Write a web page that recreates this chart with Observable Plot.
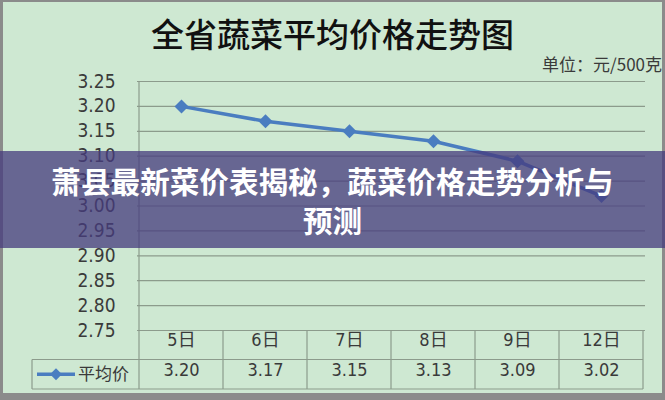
<!DOCTYPE html>
<html>
<head>
<meta charset="utf-8">
<script src="https://cdn.jsdelivr.net/npm/d3@7"></script>
<script src="https://cdn.jsdelivr.net/npm/@observablehq/plot@0.6"></script>
<style>
  html, body { margin: 0; padding: 0; background: #ffffff; }
  #wrap { position: relative; width: 665px; height: 400px; background: #8b8b8b; overflow: hidden; }
  #inner { position: absolute; left: 3px; top: 2px; width: 659px; height: 391px; background: #cee8d2; }
  #chart { position: absolute; left: 0; top: 0; width: 665px; height: 400px; }
  #banner {
    position: absolute; left: 0; top: 151px; width: 665px; height: 97px;
    background: rgba(70, 60, 125, 0.755);
    display: flex; align-items: center; justify-content: center;
  }
  #banner div {
    width: 585px; text-align: center; color: #ffffff;
    font-family: "Noto Sans CJK SC", sans-serif; font-weight: 700;
    font-size: 29.6px; line-height: 39px;
  }
</style>
</head>
<body>
<div id="wrap">
  <div id="inner"></div>
  <div id="chart"></div>
  <div id="banner"><div id="bannerText"></div></div>
</div>
<script>
const categories = ["5日", "6日", "7日", "8日", "9日", "12日"];
const prices = [3.20, 3.17, 3.15, 3.13, 3.09, 3.02];
const yTicks = [2.75, 2.80, 2.85, 2.90, 2.95, 3.00, 3.05, 3.10, 3.15, 3.20, 3.25];
const seriesName = "平均价";
const titleText = "全省蔬菜平均价格走势图";
const unitText = "单位：元/500克";
const bannerText = "萧县最新菜价表揭秘，蔬菜价格走势分析与预测";

const data = categories.map((c, i) => ({day: c, price: prices[i]}));

const lineColor = "#4a7dc0";
const gridColor = "#8c9b8c";
const textColor = "#3a3a3a";
const numFont = "'Liberation Sans Narrow', 'DejaVu Sans Condensed', 'Noto Sans CJK SC', sans-serif";

const chart = Plot.plot({
  width: 665,
  height: 400,
  marginLeft: 137,
  marginRight: 20,
  marginTop: 81,
  marginBottom: 70,
  style: {background: "transparent", overflow: "visible"},
  x: {type: "band", domain: categories, padding: 0, axis: null},
  y: {domain: [2.75, 3.25], axis: null},
  marks: [
    Plot.ruleY(yTicks, {y: d => d, stroke: gridColor, strokeWidth: 1.2}),
    Plot.axisY(yTicks, {
      tickSize: 0, tickPadding: 22, tickFormat: d3.format(".2f"),
      fontSize: 19, fill: textColor, fontFamily: numFont, label: null
    }),
    Plot.line(data, {x: "day", y: "price", stroke: lineColor, strokeWidth: 3.5}),
    Plot.dot(data, {x: "day", y: "price", symbol: "diamond2", r: 6.3, fill: lineColor, stroke: "none"}),
    Plot.text(data, {x: "day", text: "day", frameAnchor: "bottom", dy: 15,
      fontSize: 18, fill: textColor, fontFamily: numFont}),
    Plot.text(data, {x: "day", text: d => d.price.toFixed(2), frameAnchor: "bottom", dy: 45,
      fontSize: 18, fill: textColor, fontFamily: numFont})
  ]
});
document.getElementById("chart").appendChild(chart);

// Table grid, title, unit and legend derived from the plot's scales
const xs = chart.scale("x");
const ys = chart.scale("y");
const bw = xs.bandwidth;
const left = xs.apply(categories[0]);
const right = xs.apply(categories[categories.length - 1]) + bw;
const yBase = ys.apply(2.75);
const yTop = ys.apply(3.25);
const rowH = 29.5;
const tableLeft = 32;
const svg = d3.select(chart);
const g = svg.append("g").attr("stroke", gridColor).attr("stroke-width", 1.2).attr("fill", "none");
g.append("line").attr("x1", left).attr("x2", left).attr("y1", yTop).attr("y2", yBase + 2 * rowH);
categories.forEach((c) => {
  const xb = xs.apply(c) + bw;
  g.append("line").attr("x1", xb).attr("x2", xb).attr("y1", yBase).attr("y2", yBase + 2 * rowH);
});
g.append("line").attr("x1", tableLeft).attr("x2", right).attr("y1", yBase + rowH).attr("y2", yBase + rowH);
g.append("line").attr("x1", tableLeft).attr("x2", right).attr("y1", yBase + 2 * rowH).attr("y2", yBase + 2 * rowH);
g.append("line").attr("x1", tableLeft).attr("x2", tableLeft).attr("y1", yBase + rowH).attr("y2", yBase + 2 * rowH);

// legend key in table
const ly = yBase + 1.5 * rowH;
svg.append("line").attr("x1", 37).attr("x2", 75).attr("y1", ly).attr("y2", ly)
  .attr("stroke", lineColor).attr("stroke-width", 3.5);
svg.append("path").attr("d", d3.symbol(d3.symbolDiamond2, 90)())
  .attr("transform", `translate(56,${ly})`).attr("fill", lineColor);
svg.append("text").attr("x", 78).attr("y", ly).attr("dy", "0.35em")
  .attr("text-anchor", "start")
  .attr("font-family", "'Noto Sans CJK SC', sans-serif").attr("font-size", 17)
  .attr("fill", textColor).text(seriesName);

// title
svg.append("text").attr("x", 332.5).attr("y", 35).attr("dy", "0.35em")
  .attr("text-anchor", "middle").attr("font-family", "'Noto Sans CJK SC', sans-serif")
  .attr("font-weight", 500)
  .attr("font-size", 33).attr("fill", "#111111").text(titleText);
// unit
svg.append("text").attr("x", 662).attr("y", 65).attr("dy", "0.35em")
  .attr("text-anchor", "end").attr("font-family", "'Noto Sans CJK SC', sans-serif")
  .attr("font-size", 17).attr("fill", textColor).text(unitText);

document.getElementById("bannerText").textContent = bannerText;
</script>
</body>
</html>
